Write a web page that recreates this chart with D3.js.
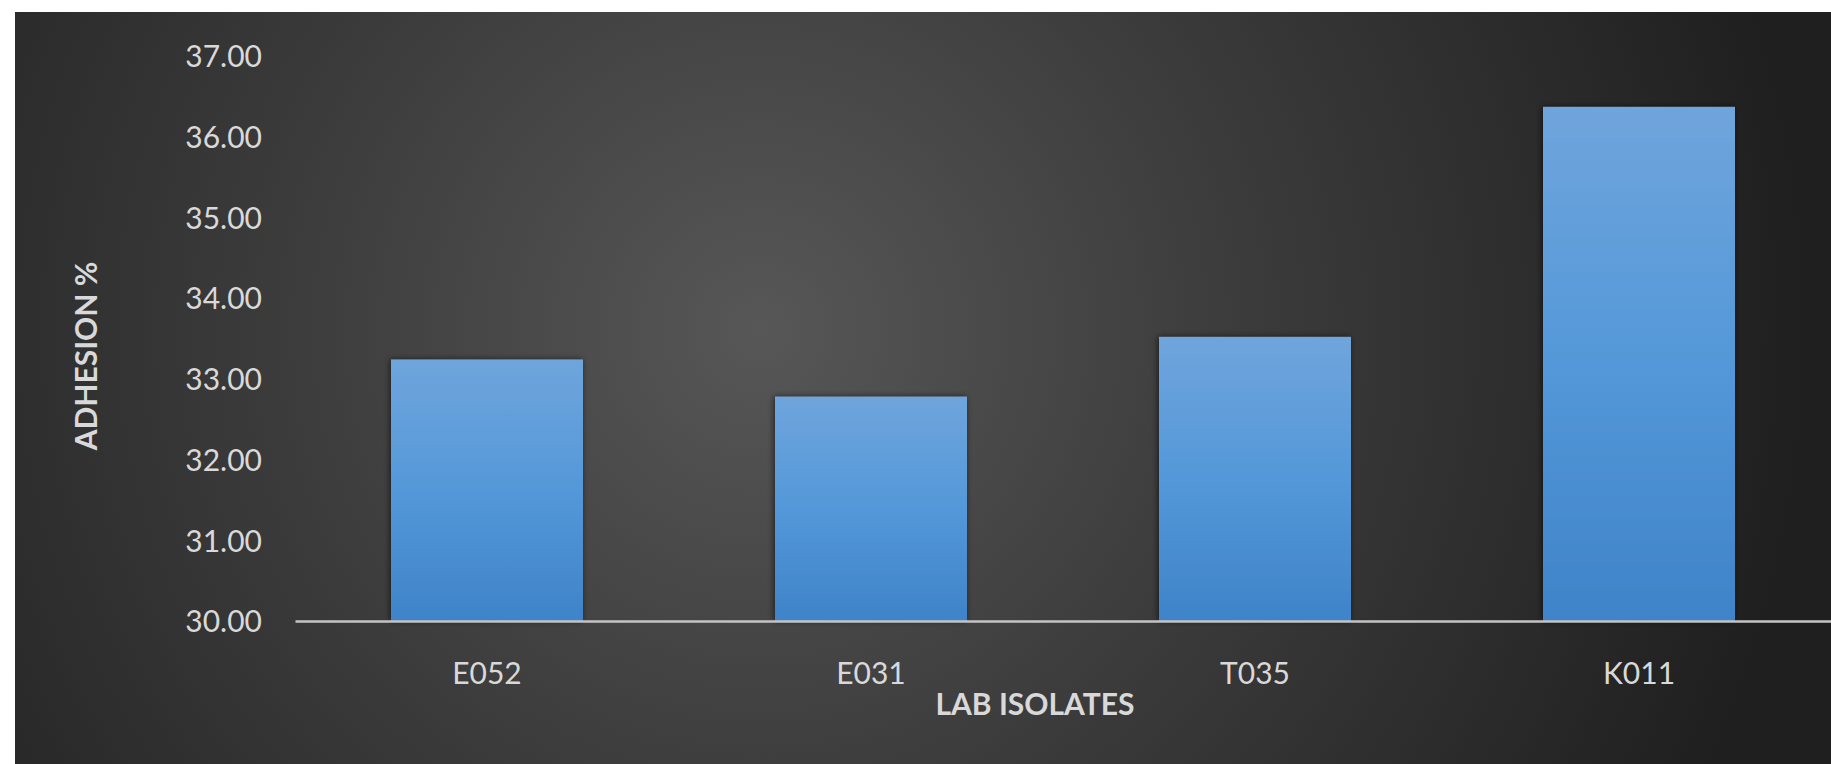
<!DOCTYPE html>
<html>
<head>
<meta charset="utf-8">
<script src="https://cdn.jsdelivr.net/npm/d3@7"></script>
<style>
  html, body { margin: 0; padding: 0; background: #fff; }
  svg { display: block; }
</style>
</head>
<body>
<div id="chart"></div>
<script>
// chart data
const isolates = ["E052", "E031", "T035", "K011"];
const adhesion = [33.24, 32.78, 33.52, 36.37];
const yTicks = [30, 31, 32, 33, 34, 35, 36, 37];

const width = 1831, height = 764;

const svg = d3.select("#chart")
    .append("svg")
    .attr("width", width)
    .attr("height", height);

const defs = svg.append("defs");

// dark radial background, lighter in the middle
const bg = defs.append("radialGradient")
    .attr("id", "bg")
    .attr("gradientUnits", "userSpaceOnUse")
    .attr("cx", 760).attr("cy", 330).attr("r", 1050);
bg.append("stop").attr("offset", "0%").attr("stop-color", "#575757");
bg.append("stop").attr("offset", "45%").attr("stop-color", "#3c3c3c");
bg.append("stop").attr("offset", "100%").attr("stop-color", "#1f1f1f");

// bar fill: lighter at the top
const barGrad = defs.append("linearGradient")
    .attr("id", "bar")
    .attr("x1", 0).attr("y1", 0).attr("x2", 0).attr("y2", 1);
barGrad.append("stop").attr("offset", "0%").attr("stop-color", "#6fa5dc");
barGrad.append("stop").attr("offset", "50%").attr("stop-color", "#5498d9");
barGrad.append("stop").attr("offset", "100%").attr("stop-color", "#3f83c8");

const shadow = defs.append("filter")
    .attr("id", "shadow")
    .attr("x", "-10%").attr("y", "-10%")
    .attr("width", "120%").attr("height", "120%");
shadow.append("feDropShadow")
    .attr("dx", -1).attr("dy", 0)
    .attr("stdDeviation", 3)
    .attr("flood-color", "#000")
    .attr("flood-opacity", 0.6);

svg.append("rect")
    .attr("x", 15).attr("y", 12)
    .attr("width", width - 15).attr("height", height - 12)
    .attr("fill", "url(#bg)");

const x = d3.scaleBand()
    .domain(isolates)
    .range([295, 1831])
    .paddingInner(0.5)
    .paddingOuter(0.25);

const y = d3.scaleLinear()
    .domain([30, 37])
    .range([621, 56]);

const font = "Lato, 'Open Sans', sans-serif";
const textColor = "#d9d9d9";

// bars
svg.append("g")
    .selectAll("rect")
    .data(adhesion)
    .enter()
    .append("rect")
    .attr("x", (d, i) => x(isolates[i]))
    .attr("y", d => y(d))
    .attr("width", x.bandwidth())
    .attr("height", d => y(30) - y(d))
    .attr("fill", "url(#bar)")
    .attr("filter", "url(#shadow)");

// y axis labels, no line
const yAxis = svg.append("g")
    .attr("transform", "translate(262,0)")
    .call(d3.axisLeft(y).tickValues(yTicks).tickSize(0).tickPadding(0).tickFormat(d3.format(".2f")));
yAxis.select(".domain").remove();
yAxis.selectAll("text")
    .attr("fill", textColor)
    .style("font-family", font)
    .style("font-size", "30px")
    .attr("dy", "0.36em");

// x axis: baseline and category names
const xAxis = svg.append("g")
    .attr("transform", `translate(0,${y(30)})`)
    .call(d3.axisBottom(x).tickSize(0).tickPadding(42));
xAxis.select(".domain")
    .attr("stroke", "#c4c4c4")
    .attr("stroke-width", 2.5);
xAxis.selectAll("text")
    .attr("fill", textColor)
    .style("font-family", font)
    .style("font-size", "30px");

// axis titles
svg.append("text")
    .attr("transform", "translate(97,356) rotate(-90)")
    .attr("text-anchor", "middle")
    .attr("fill", textColor)
    .style("font-family", font)
    .style("font-weight", "bold")
    .style("font-size", "30px")
    .text("ADHESION %");

svg.append("text")
    .attr("x", 1035)
    .attr("y", 715)
    .attr("text-anchor", "middle")
    .attr("fill", textColor)
    .style("font-family", font)
    .style("font-weight", "bold")
    .style("font-size", "30px")
    .text("LAB ISOLATES");
</script>
</body>
</html>
